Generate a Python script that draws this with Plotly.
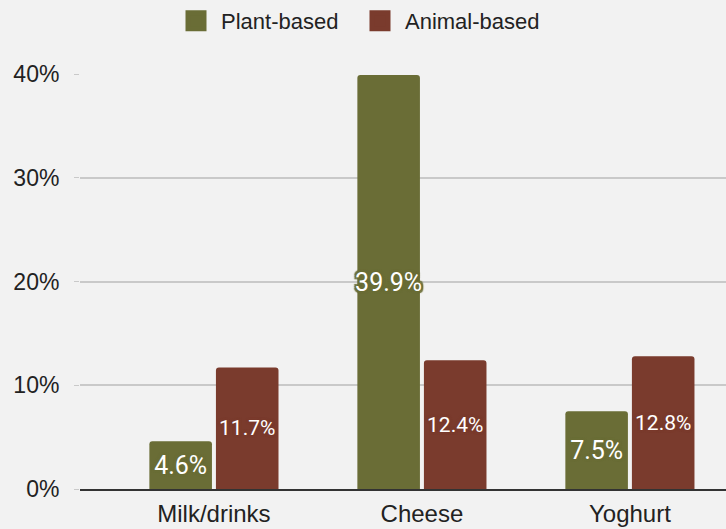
import plotly.graph_objects as go

categories = ["Milk/drinks", "Cheese", "Yoghurt"]
plant_based = [4.6, 39.9, 7.5]
animal_based = [11.7, 12.4, 12.8]
y_ticks = [0, 10, 20, 30, 40]
y_tick_labels = ["0%", "10%", "20%", "30%", "40%"]

GREEN = "#6a6d36"
RED = "#7a3b2d"
BG = "#f2f2f2"

series = [("Plant-based", plant_based, GREEN, 25, "legend"),
          ("Animal-based", animal_based, RED, 21, "legend2")]

fig = go.Figure()
for name, vals, col, fs, lg in series:
    sh = ", ".join(f"{dx}px {dy}px 1px {col}" for dx in (-2, 0, 2) for dy in (-2, 0, 2) if dx or dy)
    fig.add_trace(go.Bar(
        x=categories, y=vals, name=name, marker_color=col, marker_line_width=0,
        text=[f"{v:.1f}%" for v in vals], textposition="inside", textangle=0,
        insidetextanchor="middle", constraintext="none", cliponaxis=False,
        textfont=dict(family="Roboto", size=fs, color="white", shadow=sh),
        showlegend=False,
    ))
for name, vals, col, fs, lg in series:
    fig.add_trace(go.Scatter(
        x=[None], y=[None], mode="markers", name=name, legend=lg,
        marker=dict(symbol="square", size=16, color=col, line=dict(color=col, width=6)),
        showlegend=True,
    ))

leg_common = dict(orientation="h", xanchor="left", xref="container", y=1.0, yanchor="top",
                  yref="container", font=dict(size=22, color="#222222"),
                  itemwidth=40, bgcolor="rgba(0,0,0,0)")
fig.update_layout(
    width=726, height=529,
    paper_bgcolor=BG, plot_bgcolor=BG,
    margin=dict(l=80, r=0, t=74, b=40),
    barmode="group", bargap=0.36, bargroupgap=0.06, barcornerradius=3,
    font=dict(family="Liberation Sans, Arial", color="#222222"),
    legend=dict(x=171 / 726, **leg_common),
    legend2=dict(x=355 / 726, **leg_common),
    showlegend=True,
)
fig.update_xaxes(range=[-0.644, 2.462], showline=True, linecolor="#333333", linewidth=1.5,
                 ticks="", tickfont=dict(size=24, color="#222222"), showgrid=False,
                 ticklabelstandoff=2)
fig.update_yaxes(range=[0, 40], tickvals=y_ticks, ticktext=y_tick_labels,
                 gridcolor="#c9c9c9", gridwidth=1.5, zeroline=False,
                 ticks="outside", ticklen=5, tickcolor="#c9c9c9",
                 tickfont=dict(size=23, color="#222222"), ticklabelstandoff=10)

fig.write_html("out.html")
